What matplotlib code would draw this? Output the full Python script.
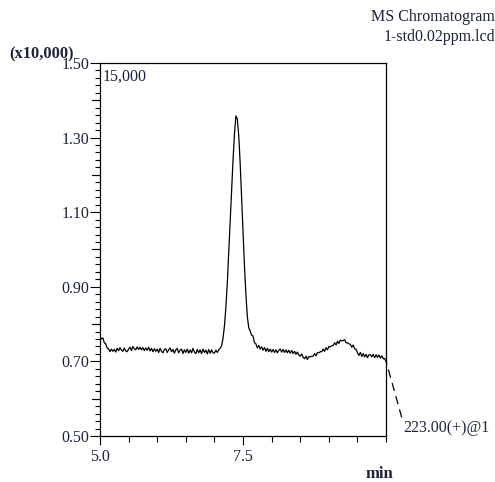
import numpy as np
import matplotlib
matplotlib.use('Agg')
import matplotlib.pyplot as plt
from matplotlib.ticker import MultipleLocator, FixedLocator

plt.rcParams['font.family'] = ['Liberation Serif', 'DejaVu Serif']

# MS chromatogram trace, intensity in units of x10,000, one reading every 0.025 min from 5.0 min
t_start, t_step = 5.0, 0.025
intensity = [
    0.766, 0.760, 0.763, 0.750, 0.747, 0.736, 0.734, 0.726, 0.733, 0.727,
    0.732, 0.725, 0.735, 0.729, 0.737, 0.730, 0.727, 0.736, 0.728, 0.726,
    0.733, 0.738, 0.729, 0.740, 0.734, 0.731, 0.739, 0.732, 0.738, 0.731,
    0.737, 0.729, 0.736, 0.730, 0.738, 0.728, 0.735, 0.726, 0.734, 0.727,
    0.733, 0.724, 0.735, 0.727, 0.723, 0.732, 0.734, 0.724, 0.731, 0.736,
    0.726, 0.732, 0.722, 0.731, 0.735, 0.723, 0.730, 0.733, 0.721, 0.731,
    0.724, 0.733, 0.722, 0.731, 0.723, 0.735, 0.725, 0.721, 0.732, 0.723,
    0.731, 0.721, 0.733, 0.724, 0.730, 0.720, 0.732, 0.722, 0.731, 0.723,
    0.722, 0.730, 0.724, 0.731, 0.735, 0.742, 0.762, 0.795, 0.845, 0.910,
    0.990, 1.075, 1.160, 1.240, 1.310, 1.358, 1.350, 1.305, 1.230, 1.140,
    1.045, 0.955, 0.880, 0.820, 0.790, 0.781, 0.770, 0.768, 0.750, 0.747,
    0.736, 0.743, 0.733, 0.739, 0.730, 0.737, 0.727, 0.735, 0.726, 0.733,
    0.725, 0.732, 0.724, 0.731, 0.723, 0.730, 0.733, 0.725, 0.732, 0.724,
    0.731, 0.723, 0.730, 0.722, 0.729, 0.721, 0.727, 0.719, 0.725, 0.717,
    0.714, 0.720, 0.711, 0.707, 0.714, 0.705, 0.713, 0.712, 0.714, 0.714,
    0.721, 0.715, 0.724, 0.723, 0.726, 0.726, 0.733, 0.727, 0.737, 0.731,
    0.740, 0.739, 0.742, 0.743, 0.750, 0.744, 0.754, 0.748, 0.757, 0.755,
    0.756, 0.758, 0.750, 0.750, 0.747, 0.746, 0.738, 0.744, 0.734, 0.733,
    0.723, 0.716, 0.724, 0.713, 0.721, 0.712, 0.719, 0.710, 0.718, 0.718,
    0.712, 0.719, 0.710, 0.718, 0.711, 0.717, 0.709, 0.715, 0.707, 0.708,
    0.700,
]
times = t_start + t_step * np.arange(len(intensity))

x_ticks = [5.0, 7.5]
x_ticklabels = ['5.0', '7.5']
y_ticks = [0.50, 0.70, 0.90, 1.10, 1.30, 1.50]
y_ticklabels = ['0.50', '0.70', '0.90', '1.10', '1.30', '1.50']

txt = '#1c2338'
fig = plt.figure(figsize=(4.95, 4.82), dpi=100)
ax = fig.add_axes([0.202, 0.0954, 0.578, 0.774])
ax.plot(times, intensity, color='black', linewidth=0.9)

ax.set_xlim(5.0, 10.0)
ax.set_ylim(0.50, 1.50)

ax.xaxis.set_major_locator(FixedLocator(x_ticks))
ax.set_xticklabels(x_ticklabels)
ax.xaxis.set_minor_locator(MultipleLocator(0.5))
ax.yaxis.set_major_locator(FixedLocator(y_ticks))
ax.set_yticklabels(y_ticklabels)
ax.yaxis.set_minor_locator(MultipleLocator(0.02))
# medium ticks at every 0.1
for yv in np.arange(0.6, 1.5, 0.2):
    ax.plot([-0.028, 0], [yv, yv], transform=ax.get_yaxis_transform(),
            color='black', linewidth=0.8, clip_on=False)

ax.tick_params(axis='y', which='major', direction='out', length=7.2, width=0.8,
               labelsize=11.5, labelcolor=txt, pad=0.5)
ax.tick_params(axis='y', which='minor', direction='out', length=3.6, width=0.8)
ax.tick_params(axis='x', which='major', direction='out', length=6.5, width=0.8,
               labelsize=11.5, labelcolor=txt, pad=2.5)
ax.tick_params(axis='x', which='minor', direction='out', length=4.3, width=0.8)
for s in ax.spines.values():
    s.set_linewidth(0.9)

ax.text(0.01, 0.985, '15,000', transform=ax.transAxes, ha='left', va='top',
        fontsize=11.5, color=txt)
fig.text(0.018, 0.888, '(x10,000)', ha='left', va='center', fontsize=11.8,
         fontweight='bold', color=txt)
fig.text(1.0, 0.965, 'MS Chromatogram', ha='right', va='center', fontsize=11.5, color=txt)
fig.text(1.0, 0.923, '1-std0.02ppm.lcd', ha='right', va='center', fontsize=11.5, color=txt)
fig.text(0.766, 0.009, 'min', ha='center', va='baseline', fontsize=12,
         fontweight='bold', color=txt)

ax.annotate('223.00(+)@1', xy=(times[-1], intensity[-1]), xycoords='data',
            xytext=(1.06, 0.022), textcoords='axes fraction', ha='left', va='center',
            fontsize=11.5, color=txt,
            arrowprops=dict(arrowstyle='-', color='black', linewidth=0.9,
                            linestyle=(0, (6, 5)), shrinkA=0, shrinkB=0,
                            relpos=(0.0, 0.8)))

fig.savefig('out.png', dpi=100)
